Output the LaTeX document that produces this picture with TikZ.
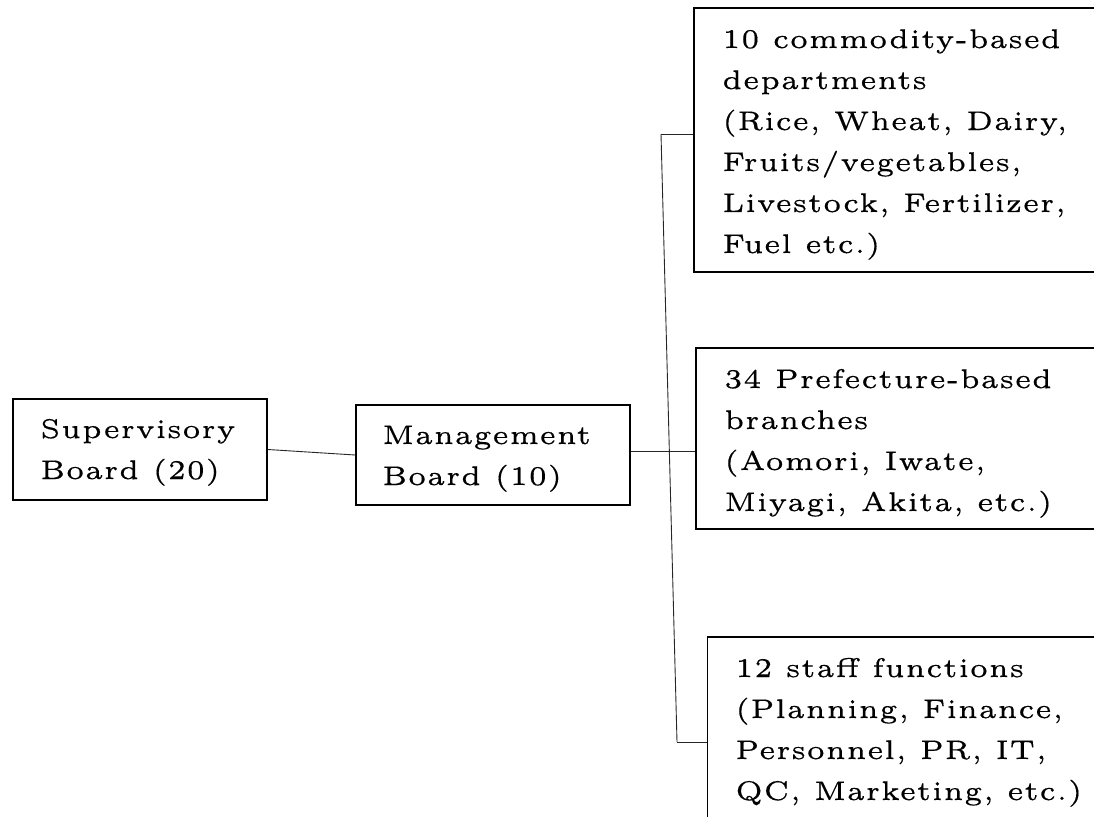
\documentclass[tikz,border=0pt]{standalone}
\usepackage{fontspec}
\setmainfont{lmroman5-regular}[Extension=.otf, LetterSpace=2, FakeBold=0.4]
\begin{document}
\begin{tikzpicture}[x=1pt,y=-1pt,
  box/.style={draw=black,line width=1.6pt,inner sep=0pt,rectangle},
  txt/.style={inner sep=0pt,anchor=base west,
    font=\fontsize{27}{41}\selectfont},
  conn/.style={draw=black!85,line width=0.9pt}]
\useasboundingbox (0,0) rectangle (1094,816);
\clip (0,0) rectangle (1094,816);
% boxes
\node[box,minimum width=254pt,minimum height=101pt] (sup) at (140,449.5) {};
\node[box,minimum width=274pt,minimum height=100pt] (mgmt) at (493,455) {};
\node[box,minimum width=426pt,minimum height=264pt] (dept) at (907,140) {};
\node[box,minimum width=424pt,minimum height=181pt] (pref) at (908,438.5) {};
\node[box,minimum width=413pt,minimum height=203pt] (staff) at (914,738.5) {};
% texts
\node[txt] (suptxt) at (40,438) {\begin{tabular}[t]{@{}l@{}}Supervisory\\Board (20)\end{tabular}};
\node[txt] (mgmttxt) at (382,444) {\begin{tabular}[t]{@{}l@{}}Management\\Board (10)\end{tabular}};
\node[txt] (depttxt) at (722,48) {\begin{tabular}[t]{@{}l@{}}10 commodity-based\\departments\\(Rice, Wheat, Dairy,\\Fruits/vegetables,\\Livestock, Fertilizer,\\Fuel etc.)\end{tabular}};
\node[txt] (preftxt) at (724,388) {\begin{tabular}[t]{@{}l@{}}34 Prefecture-based\\branches\\(Aomori, Iwate,\\Miyagi, Akita, etc.)\end{tabular}};
\node[txt] (stafftxt) at (735,677) {\begin{tabular}[t]{@{}l@{}}12 staff functions\\(Planning, Finance,\\Personnel, PR, IT,\\QC, Marketing, etc.)\end{tabular}};
% connectors
\coordinate (jt) at (661,134);
\coordinate (jb) at (677,742);
\coordinate (jm) at (668,451);
\draw[conn] (sup.east) -- (mgmt.west);
\draw[conn] (jt) -- (jb);
\draw[conn] (jt) -- (jt -| dept.west);
\draw[conn] (jb) -- (jb -| staff.west);
\draw[conn] (jm -| mgmt.east) -- (jm -| pref.west);
\end{tikzpicture}
\end{document}
